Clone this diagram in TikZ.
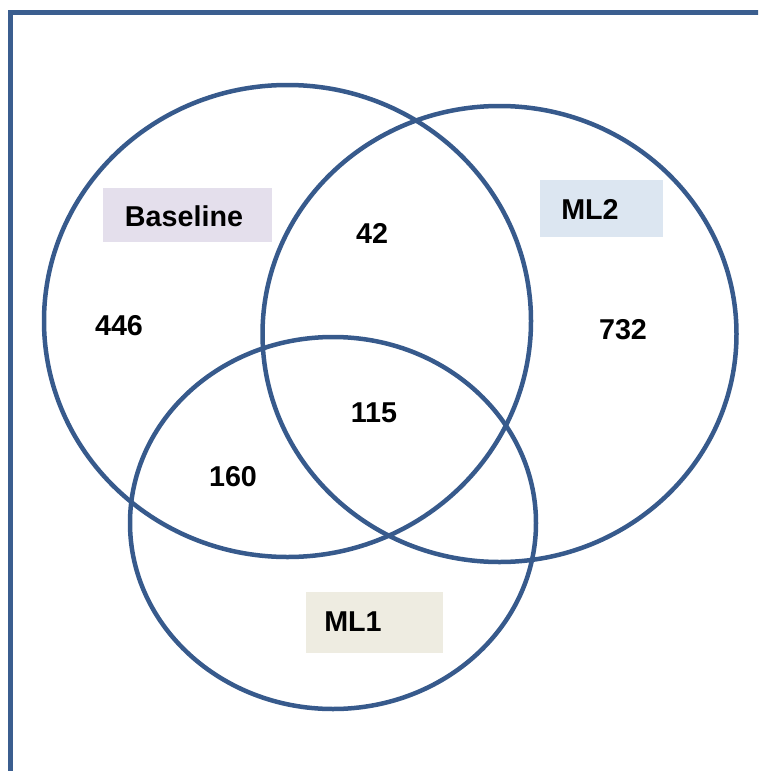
\documentclass[tikz,border=0pt]{standalone}
\usepackage{fontspec}
\setmainfont{Liberation Sans}
\definecolor{ringblue}{RGB}{55,90,140}
\definecolor{frameblue}{RGB}{59,94,143}
\definecolor{lavender}{RGB}{228,223,236}
\definecolor{paleblue}{RGB}{220,230,241}
\definecolor{paletan}{RGB}{238,236,225}
\begin{document}
\begin{tikzpicture}[x=1pt,y=-1pt,
  ring/.style={draw=ringblue,line width=4.5pt},
  tag/.style={rectangle,inner sep=0pt,anchor=north west},
  lbl/.style={font=\bfseries\fontsize{28.7}{34}\selectfont,inner sep=0pt,text=black},
  count/.style={lbl}]
  \useasboundingbox (0,0) rectangle (758,771);
  \begin{scope}
    \clip (0,0) rectangle (758,771);
    % outer frame running off the page edges
    \draw[frameblue,line width=5pt] (800,12.5) -- (10,12.5) -- (10,800);
  \end{scope}
  % the three sets
  \draw[ring] (287.5,321) ellipse [x radius=243.5,y radius=236];
  \draw[ring] (499.5,334) ellipse [x radius=237,y radius=228];
  \draw[ring] (333,523) ellipse [x radius=203,y radius=186];
  % set name tags
  \node[tag,fill=lavender,minimum width=169pt,minimum height=54pt] (tagbase) at (103,188) {};
  \node[lbl] (base) at (184,216) {Baseline};
  \node[tag,fill=paleblue,minimum width=123pt,minimum height=57pt] (tagmltwo) at (540,180) {};
  \node[lbl] (mltwo) at (590,209.5) {ML2};
  \node[tag,fill=paletan,minimum width=137pt,minimum height=61pt] (tagmlone) at (306,592) {};
  \node[lbl] (mlone) at (353,622) {ML1};
  % region counts
  \node[count] (n446) at (119,326) {446};
  \node[count] (n42) at (372,233) {42};
  \node[count] (n732) at (623,330) {732};
  \node[count] (n115) at (374,413) {115};
  \node[count] (n160) at (233,477) {160};
\end{tikzpicture}
\end{document}
